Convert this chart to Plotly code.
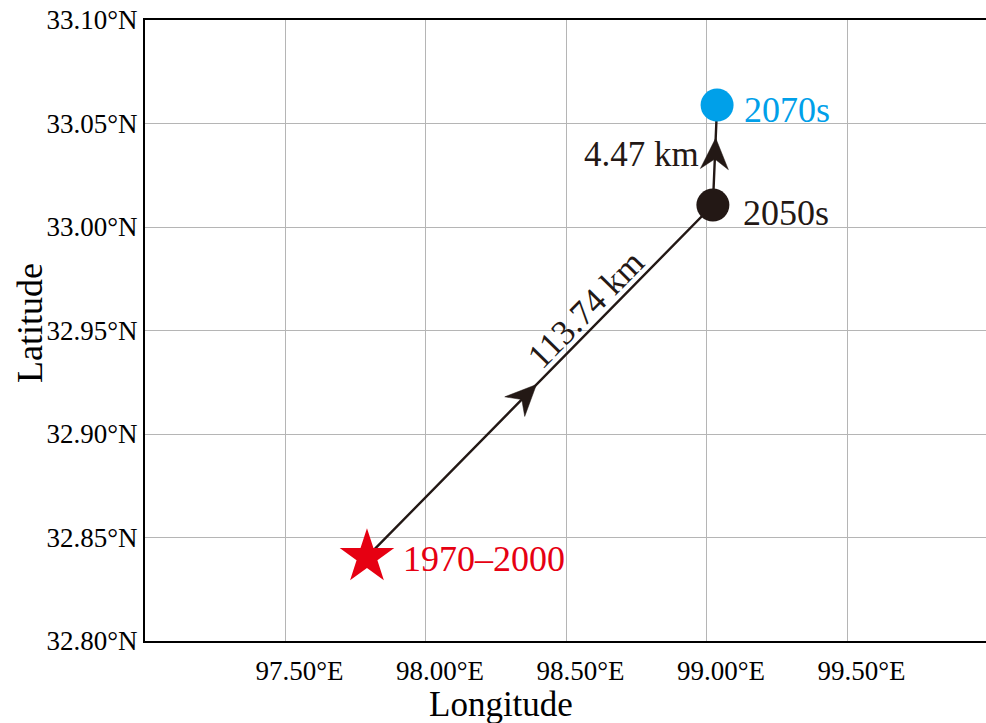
import math
import plotly.graph_objects as go

# ---- data ----
periods = ["1970–2000", "2050s", "2070s"]
lon = [97.790, 99.021, 99.036]
lat = [32.8406, 33.0106, 33.0589]
distances = ["113.74 km", "4.47 km"]

x_ticks = [97.5, 98.0, 98.5, 99.0, 99.5]
x_ticktext = ["97.50°E", "98.00°E", "98.50°E", "99.00°E", "99.50°E"]
y_ticks = [32.80, 32.85, 32.90, 32.95, 33.00, 33.05, 33.10]
y_ticktext = ["32.80°N", "32.85°N", "32.90°N", "32.95°N", "33.00°N", "33.05°N", "33.10°N"]

# ---- styles ----
FONT = "Liberation Serif, Times New Roman, serif"
INK = "#231815"
colors = ["#E60012", INK, "#00A0E9"]
symbols = ["star", "circle", "circle"]
sizes = [41, 33, 33]
label_shift = [(34, -2), (28, -8), (25, -5)]
HEAD_L, HEAD_W, HEAD_N = 31, 28, 21   # arrowhead length, width, notch (px)

X_RANGE = [97.0, 99.993]
Y_RANGE = [32.80, 33.10]
W, H = 986, 723
M = dict(l=145, r=0, t=20, b=82)
pw = W - M["l"] - M["r"]
ph = H - M["t"] - M["b"]
sx = pw / (X_RANGE[1] - X_RANGE[0])
sy = ph / (Y_RANGE[1] - Y_RANGE[0])

fig = go.Figure()

# path line
fig.add_trace(go.Scatter(x=lon, y=lat, mode="lines",
                         line=dict(color=INK, width=2.4), hoverinfo="skip",
                         showlegend=False))

# arrowheads (filled, notched) placed along each segment
tips = [0.49, 0.67]
for k in range(2):
    x0, y0, x1, y1 = lon[k], lat[k], lon[k + 1], lat[k + 1]
    t = tips[k]
    tx, ty = x0 + t * (x1 - x0), y0 + t * (y1 - y0)
    dx, dy = (x1 - x0) * sx, (y1 - y0) * sy
    n = math.hypot(dx, dy)
    ux, uy = dx / n, dy / n
    px_, py_ = -uy, ux
    pts = [(0, 0),
           (-HEAD_L * ux + HEAD_W / 2 * px_, -HEAD_L * uy + HEAD_W / 2 * py_),
           (-HEAD_N * ux, -HEAD_N * uy),
           (-HEAD_L * ux - HEAD_W / 2 * px_, -HEAD_L * uy - HEAD_W / 2 * py_),
           (0, 0)]
    fig.add_trace(go.Scatter(x=[tx + p[0] / sx for p in pts],
                             y=[ty + p[1] / sy for p in pts],
                             mode="lines", fill="toself", fillcolor=INK,
                             line=dict(color=INK, width=0.5),
                             hoverinfo="skip", showlegend=False))

# markers
for i in range(len(periods)):
    fig.add_trace(go.Scatter(x=[lon[i]], y=[lat[i]], mode="markers",
                             marker=dict(symbol=symbols[i], size=sizes[i],
                                         color=colors[i], line=dict(width=0)),
                             name=periods[i], showlegend=False))

annotations = []
# period labels
for i in range(len(periods)):
    annotations.append(dict(x=lon[i], y=lat[i], xref="x", yref="y",
                            text=periods[i], showarrow=False,
                            xanchor="left", yanchor="middle",
                            xshift=label_shift[i][0], yshift=label_shift[i][1],
                            font=dict(family=FONT, size=36, color=colors[i])))

# distance label 1 (rotated along the segment)
dxp = (lon[1] - lon[0]) * sx
dyp = (lat[1] - lat[0]) * sy
ang = math.degrees(math.atan2(dyp, dxp))
t = 0.668
off = 17
nx, ny = -math.sin(math.radians(ang)), math.cos(math.radians(ang))
annotations.append(dict(x=lon[0] + t * (lon[1] - lon[0]), y=lat[0] + t * (lat[1] - lat[0]),
                        xref="x", yref="y", text=distances[0], showarrow=False,
                        textangle=-ang, xanchor="center", yanchor="middle",
                        xshift=off * nx, yshift=off * ny,
                        font=dict(family=FONT, size=35, color=INK)))
# distance label 2
t = 0.53
annotations.append(dict(x=lon[1] + t * (lon[2] - lon[1]), y=lat[1] + t * (lat[2] - lat[1]),
                        xref="x", yref="y", text=distances[1], showarrow=False,
                        xanchor="right", yanchor="middle", xshift=-14, yshift=-2,
                        font=dict(family=FONT, size=35, color=INK)))

# axis titles
annotations.append(dict(x=0, y=(641 - 323) / ph, xref="paper", yref="paper",
                        text="Latitude", showarrow=False, textangle=-90,
                        xanchor="center", yanchor="middle", xshift=-115,
                        font=dict(family=FONT, size=36, color="#000000")))
annotations.append(dict(x=(500.5 - M["l"]) / pw, y=0, xref="paper", yref="paper",
                        text="Longitude", showarrow=False,
                        xanchor="center", yanchor="middle", yshift=-63,
                        font=dict(family=FONT, size=35, color="#000000")))

fig.update_layout(
    width=W, height=H, autosize=False,
    margin=M,
    paper_bgcolor="white", plot_bgcolor="white",
    annotations=annotations,
    showlegend=False,
)
fig.update_xaxes(range=X_RANGE, tickvals=x_ticks, ticktext=x_ticktext,
                 showgrid=True, gridcolor="#b5b5b5", gridwidth=1,
                 showline=True, linecolor="#000000", linewidth=2, mirror=True,
                 ticks="", zeroline=False, ticklabelshift=14, ticklabelstandoff=5,
                 tickfont=dict(family=FONT, size=27, color="#000000"))
fig.update_yaxes(range=Y_RANGE, tickvals=y_ticks, ticktext=y_ticktext,
                 showgrid=True, gridcolor="#b5b5b5", gridwidth=1,
                 showline=True, linecolor="#000000", linewidth=2, mirror=False,
                 ticks="", zeroline=False,
                 tickfont=dict(family=FONT, size=27, color="#000000"))

fig.write_html("out.html",
               config={"displayModeBar": False},
               post_script="document.body.style.margin='0';"
                           "document.body.style.overflow='hidden';")
